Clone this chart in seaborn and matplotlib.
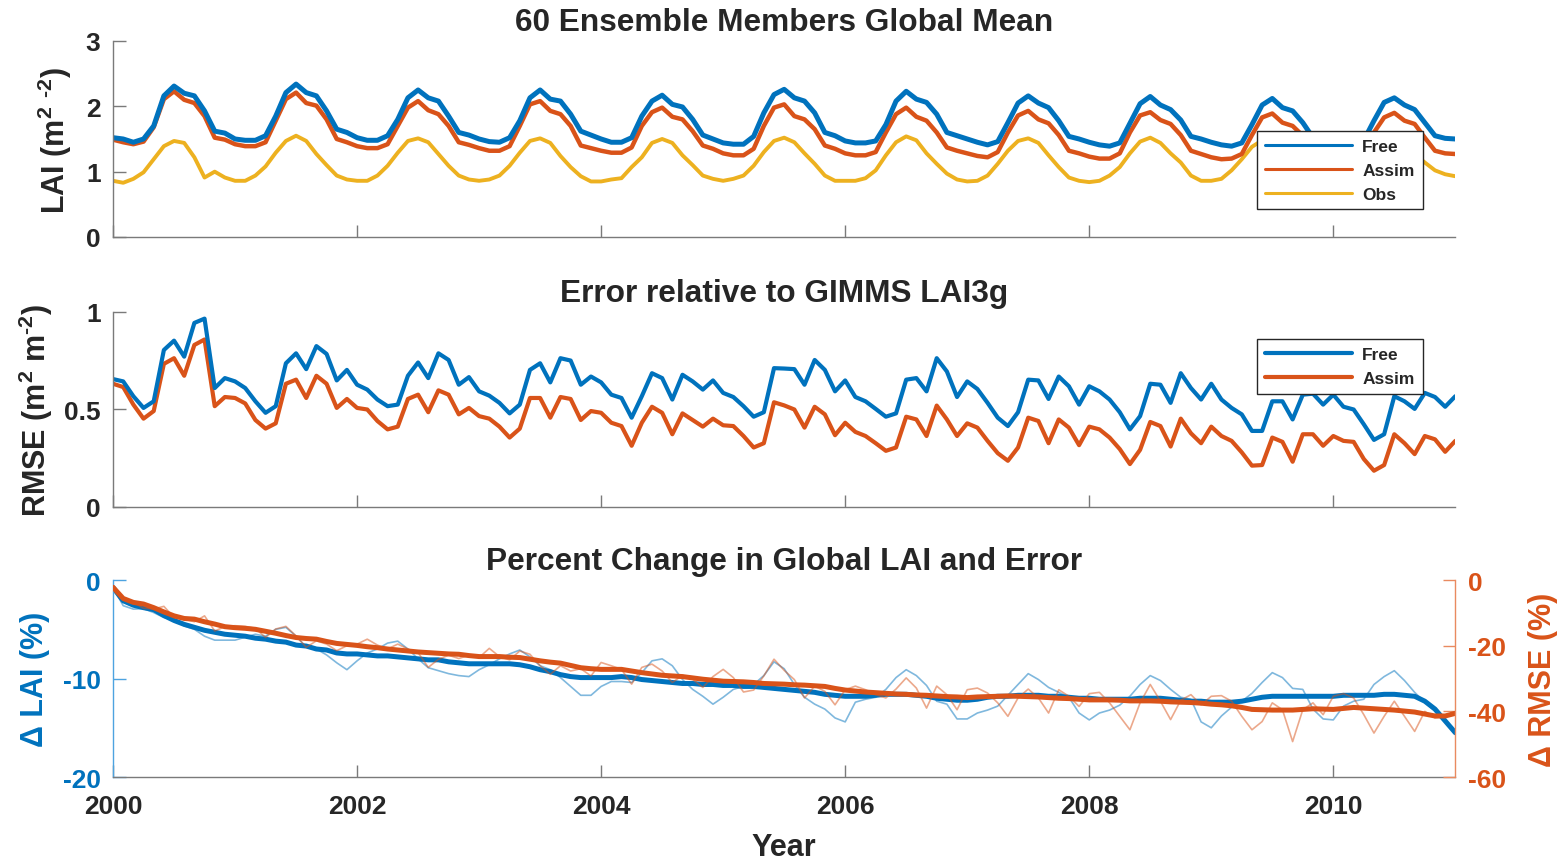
import numpy as np
import matplotlib
matplotlib.use("Agg")
import matplotlib.pyplot as plt
from matplotlib.lines import Line2D
import seaborn as sns

# ---------------- data (monthly, Jan 2000 .. Jan 2011) ----------------
years = [2000, 2002, 2004, 2006, 2008, 2010]

free_lai = [
    1.52, 1.50, 1.45, 1.50, 1.70, 2.16, 2.31, 2.20, 2.16, 1.93, 1.62, 1.59,
    1.50, 1.48, 1.48, 1.55, 1.85, 2.21, 2.34, 2.21, 2.16, 1.93, 1.65, 1.60,
    1.52, 1.48, 1.48, 1.55, 1.80, 2.13, 2.25, 2.13, 2.08, 1.85, 1.60, 1.56,
    1.50, 1.46, 1.45, 1.52, 1.78, 2.13, 2.25, 2.11, 2.08, 1.88, 1.62, 1.56,
    1.50, 1.45, 1.45, 1.52, 1.85, 2.08, 2.17, 2.03, 1.99, 1.80, 1.56, 1.50,
    1.44, 1.42, 1.42, 1.54, 1.90, 2.18, 2.26, 2.13, 2.08, 1.90, 1.60, 1.55,
    1.47, 1.44, 1.44, 1.47, 1.72, 2.08, 2.23, 2.11, 2.06, 1.88, 1.60, 1.55,
    1.50, 1.45, 1.41, 1.46, 1.75, 2.05, 2.16, 2.05, 1.98, 1.78, 1.54, 1.50,
    1.45, 1.41, 1.39, 1.44, 1.74, 2.04, 2.15, 2.02, 1.95, 1.79, 1.54, 1.50,
    1.45, 1.41, 1.39, 1.44, 1.72, 2.02, 2.12, 1.98, 1.93, 1.75, 1.52, 1.48,
    1.44, 1.42, 1.42, 1.48, 1.78, 2.06, 2.13, 2.02, 1.95, 1.75, 1.55, 1.51,
    1.50,
]

assim_lai = [
    1.49, 1.45, 1.42, 1.46, 1.68, 2.11, 2.23, 2.10, 2.05, 1.85, 1.52, 1.49,
    1.42, 1.39, 1.39, 1.45, 1.78, 2.11, 2.21, 2.05, 2.01, 1.80, 1.50, 1.45,
    1.39, 1.36, 1.36, 1.42, 1.70, 1.98, 2.08, 1.94, 1.88, 1.70, 1.45, 1.41,
    1.36, 1.32, 1.32, 1.39, 1.70, 2.03, 2.08, 1.93, 1.88, 1.70, 1.40, 1.36,
    1.32, 1.29, 1.29, 1.37, 1.70, 1.91, 1.98, 1.84, 1.80, 1.62, 1.40, 1.35,
    1.28, 1.25, 1.25, 1.35, 1.70, 1.98, 2.03, 1.85, 1.80, 1.65, 1.40, 1.35,
    1.28, 1.25, 1.25, 1.30, 1.60, 1.88, 1.98, 1.84, 1.78, 1.60, 1.37, 1.32,
    1.28, 1.24, 1.22, 1.30, 1.60, 1.86, 1.93, 1.80, 1.74, 1.56, 1.32, 1.28,
    1.23, 1.20, 1.20, 1.28, 1.60, 1.86, 1.91, 1.79, 1.73, 1.56, 1.32, 1.27,
    1.22, 1.19, 1.20, 1.27, 1.56, 1.83, 1.89, 1.75, 1.70, 1.55, 1.35, 1.28,
    1.24, 1.23, 1.25, 1.30, 1.60, 1.83, 1.90, 1.78, 1.73, 1.52, 1.32, 1.28,
    1.27,
]

obs_lai = [
    0.86, 0.83, 0.89, 0.99, 1.19, 1.39, 1.47, 1.44, 1.22, 0.91, 1.00, 0.91,
    0.86, 0.86, 0.94, 1.08, 1.29, 1.47, 1.55, 1.47, 1.27, 1.10, 0.94, 0.88,
    0.86, 0.86, 0.94, 1.09, 1.29, 1.47, 1.51, 1.45, 1.27, 1.09, 0.94, 0.88,
    0.86, 0.88, 0.94, 1.09, 1.29, 1.47, 1.51, 1.44, 1.24, 1.07, 0.93, 0.85,
    0.85, 0.88, 0.90, 1.07, 1.22, 1.44, 1.50, 1.44, 1.25, 1.10, 0.94, 0.89,
    0.86, 0.89, 0.94, 1.09, 1.30, 1.47, 1.52, 1.45, 1.28, 1.12, 0.94, 0.86,
    0.86, 0.86, 0.90, 1.02, 1.25, 1.45, 1.54, 1.48, 1.28, 1.12, 0.97, 0.88,
    0.85, 0.86, 0.94, 1.12, 1.32, 1.47, 1.51, 1.44, 1.25, 1.07, 0.91, 0.86,
    0.84, 0.86, 0.94, 1.07, 1.28, 1.46, 1.52, 1.44, 1.28, 1.14, 0.94, 0.86,
    0.86, 0.89, 1.02, 1.19, 1.38, 1.48, 1.50, 1.44, 1.25, 1.08, 0.93, 0.86,
    0.85, 0.87, 0.98, 1.18, 1.38, 1.47, 1.50, 1.42, 1.27, 1.14, 1.02, 0.96,
    0.93,
]

rmse_free = [
    0.656, 0.644, 0.568, 0.508, 0.542, 0.805, 0.853, 0.771, 0.944, 0.966, 0.610, 0.661,
    0.644, 0.610, 0.542, 0.483, 0.517, 0.737, 0.788, 0.707, 0.825, 0.785, 0.649, 0.703,
    0.627, 0.602, 0.551, 0.517, 0.525, 0.673, 0.741, 0.661, 0.788, 0.754, 0.627, 0.666,
    0.593, 0.571, 0.534, 0.480, 0.525, 0.703, 0.737, 0.639, 0.763, 0.751, 0.627, 0.669,
    0.639, 0.576, 0.559, 0.458, 0.568, 0.686, 0.661, 0.551, 0.678, 0.644, 0.602, 0.649,
    0.585, 0.564, 0.517, 0.463, 0.486, 0.712, 0.710, 0.707, 0.627, 0.754, 0.703, 0.593,
    0.649, 0.564, 0.542, 0.503, 0.463, 0.480, 0.653, 0.661, 0.593, 0.763, 0.695, 0.564,
    0.644, 0.605, 0.534, 0.458, 0.415, 0.486, 0.653, 0.649, 0.554, 0.669, 0.619, 0.525,
    0.619, 0.593, 0.551, 0.486, 0.398, 0.466, 0.632, 0.627, 0.534, 0.686, 0.610, 0.551,
    0.632, 0.551, 0.508, 0.475, 0.390, 0.390, 0.542, 0.542, 0.449, 0.576, 0.581, 0.525,
    0.576, 0.514, 0.500, 0.424, 0.344, 0.373, 0.568, 0.542, 0.503, 0.585, 0.564, 0.514,
    0.568,
]

rmse_assim = [
    0.632, 0.615, 0.525, 0.453, 0.492, 0.734, 0.763, 0.673, 0.831, 0.859, 0.517, 0.564,
    0.559, 0.531, 0.446, 0.402, 0.429, 0.632, 0.653, 0.559, 0.673, 0.632, 0.508, 0.554,
    0.508, 0.500, 0.441, 0.398, 0.412, 0.554, 0.576, 0.486, 0.598, 0.576, 0.475, 0.508,
    0.466, 0.453, 0.412, 0.356, 0.402, 0.559, 0.559, 0.458, 0.564, 0.554, 0.446, 0.492,
    0.483, 0.432, 0.415, 0.314, 0.432, 0.514, 0.483, 0.373, 0.480, 0.446, 0.412, 0.453,
    0.419, 0.415, 0.364, 0.305, 0.327, 0.537, 0.521, 0.500, 0.407, 0.514, 0.475, 0.368,
    0.432, 0.385, 0.364, 0.327, 0.288, 0.305, 0.463, 0.449, 0.364, 0.520, 0.449, 0.364,
    0.429, 0.407, 0.339, 0.276, 0.237, 0.305, 0.458, 0.441, 0.327, 0.449, 0.407, 0.317,
    0.412, 0.398, 0.356, 0.297, 0.220, 0.293, 0.436, 0.415, 0.310, 0.453, 0.378, 0.327,
    0.412, 0.364, 0.339, 0.280, 0.212, 0.215, 0.356, 0.334, 0.232, 0.373, 0.373, 0.314,
    0.364, 0.339, 0.334, 0.246, 0.186, 0.215, 0.373, 0.327, 0.271, 0.364, 0.347, 0.283,
    0.339,
]

# percent change in global LAI (left axis), monthly and smoothed
dlai_monthly = [
    -0.75, -2.6, -2.95, -2.9, -3.3, -3.8, -4.1, -4.65, -5.0, -5.7, -6.1, -6.1,
    -6.1, -5.8, -5.5, -5.7, -5.0, -4.8, -5.7, -6.8, -7.0, -7.6, -8.4, -9.1,
    -8.2, -7.4, -7.0, -6.4, -6.2, -7.0, -8.0, -8.9, -9.2, -9.5, -9.7, -9.8,
    -9.1, -8.6, -8.0, -7.5, -7.1, -7.8, -8.7, -9.1, -9.9, -10.8, -11.7, -11.7,
    -10.8, -10.3, -10.3, -10.4, -9.4, -8.2, -8.0, -8.7, -10.1, -11.1, -11.8, -12.6,
    -11.9, -11.1, -10.8, -10.6, -9.7, -8.3, -9.0, -10.6, -11.9, -12.6, -13.1, -14.0,
    -14.4, -12.4, -12.1, -11.9, -11.1, -9.9, -9.1, -9.7, -10.7, -12.3, -12.6, -14.1,
    -14.1, -13.5, -13.2, -12.8, -11.7, -10.6, -9.5, -10.1, -10.9, -11.4, -11.9, -13.5,
    -14.2, -13.5, -13.2, -12.7, -11.8, -10.6, -9.7, -10.2, -11.1, -11.9, -12.1, -14.4,
    -15.0, -13.8, -12.9, -12.3, -11.5, -10.4, -9.4, -9.9, -11.0, -11.1, -13.1, -14.1,
    -14.2, -12.8, -12.3, -12.1, -10.6, -9.8, -9.2, -10.2, -11.4, -12.4, -13.3, -14.3,
    -15.5,
]

dlai_smooth = [
    -0.75, -2.1, -2.55, -2.8, -3.0, -3.6, -4.1, -4.5, -4.8, -5.1, -5.3, -5.5,
    -5.6, -5.7, -5.9, -6.0, -6.2, -6.3, -6.6, -6.7, -7.0, -7.1, -7.4, -7.5,
    -7.5, -7.6, -7.7, -7.7, -7.8, -7.9, -8.0, -8.1, -8.1, -8.3, -8.4, -8.5,
    -8.5, -8.5, -8.5, -8.5, -8.6, -8.8, -9.1, -9.3, -9.6, -9.8, -9.9, -9.9,
    -9.9, -9.9, -9.8, -9.9, -10.1, -10.2, -10.3, -10.4, -10.5, -10.5, -10.6, -10.6,
    -10.7, -10.7, -10.8, -10.8, -10.9, -11.0, -11.1, -11.2, -11.3, -11.4, -11.6, -11.7,
    -11.8, -11.8, -11.8, -11.7, -11.6, -11.6, -11.6, -11.7, -11.8, -12.0, -12.1, -12.2,
    -12.2, -12.1, -11.9, -11.8, -11.8, -11.7, -11.7, -11.7, -11.8, -11.8, -11.9, -12.0,
    -12.0, -12.1, -12.1, -12.1, -12.1, -12.0, -12.0, -12.0, -12.1, -12.2, -12.3, -12.3,
    -12.4, -12.4, -12.4, -12.3, -12.1, -11.9, -11.8, -11.8, -11.8, -11.8, -11.8, -11.8,
    -11.8, -11.7, -11.7, -11.7, -11.7, -11.6, -11.6, -11.7, -11.8, -12.3, -13.1, -14.3,
    -15.5,
]

# percent change in RMSE (right axis), monthly and smoothed
drmse_monthly = [
    -2.2, -5.8, -6.8, -8.6, -8.8, -8.0, -11.4, -11.9, -12.7, -10.9, -15.5, -14.2,
    -13.9, -14.1, -14.7, -17.5, -14.9, -14.1, -17.0, -20.5, -18.5, -19.5, -21.5, -20.0,
    -19.5, -18.0, -19.8, -21.0, -19.5, -21.0, -22.1, -26.6, -24.1, -22.9, -23.9, -22.9,
    -23.6, -20.8, -23.3, -24.3, -21.6, -22.6, -26.1, -28.7, -26.1, -27.7, -27.0, -29.2,
    -25.1, -26.1, -27.2, -31.7, -26.6, -25.6, -27.7, -31.2, -29.0, -30.2, -32.7, -29.4,
    -27.2, -29.7, -34.1, -33.5, -29.2, -24.1, -27.5, -30.3, -35.9, -32.3, -33.9, -38.0,
    -33.4, -32.3, -33.4, -34.9, -35.9, -33.2, -29.8, -32.9, -39.0, -32.3, -34.9, -39.5,
    -33.4, -32.9, -34.4, -37.4, -41.5, -35.9, -33.2, -35.9, -40.5, -33.4, -35.4, -38.5,
    -34.6, -34.2, -37.4, -41.5, -45.6, -37.4, -31.8, -36.9, -42.5, -36.6, -34.9, -38.0,
    -35.4, -35.2, -36.9, -41.5, -45.6, -43.1, -37.4, -39.5, -49.2, -39.5, -37.4, -41.0,
    -35.4, -34.6, -35.9, -41.0, -46.6, -41.5, -36.9, -41.5, -46.1, -40.0, -42.0, -41.5,
    -40.5,
]

drmse_smooth = [
    -2.2, -5.6, -6.8, -7.3, -8.4, -9.7, -10.9, -11.7, -11.9, -12.7, -13.4, -14.2,
    -14.5, -14.7, -15.0, -15.6, -16.2, -16.9, -17.5, -17.8, -18.0, -18.7, -19.3, -19.6,
    -19.9, -20.3, -20.6, -21.0, -21.3, -21.6, -21.9, -22.1, -22.3, -22.5, -22.6, -23.0,
    -23.3, -23.3, -23.3, -23.5, -23.6, -24.1, -24.6, -25.0, -25.3, -26.0, -26.7, -27.0,
    -27.2, -27.2, -27.2, -27.7, -28.2, -28.6, -29.0, -29.2, -29.4, -29.8, -30.2, -30.5,
    -30.8, -30.9, -31.0, -31.2, -31.5, -31.6, -31.7, -31.9, -32.0, -32.2, -32.4, -33.0,
    -33.5, -33.8, -34.1, -34.3, -34.5, -34.7, -34.8, -35.0, -35.1, -35.3, -35.5, -35.6,
    -35.8, -35.6, -35.5, -35.4, -35.3, -35.4, -35.5, -35.6, -35.8, -36.0, -36.1, -36.3,
    -36.5, -36.5, -36.5, -36.6, -36.8, -36.8, -36.8, -36.9, -37.1, -37.2, -37.3, -37.5,
    -37.8, -38.0, -38.3, -38.8, -39.4, -39.5, -39.6, -39.6, -39.6, -39.4, -39.2, -39.3,
    -39.4, -39.1, -38.8, -39.0, -39.2, -39.4, -39.6, -39.9, -40.2, -40.8, -41.4, -41.4,
    -40.6,
]

lai_ticks = [0, 1, 2, 3]
rmse_ticks = [0, 0.5, 1]
rmse_tick_labels = ["0", "0.5", "1"]
dlai_ticks = [-20, -10, 0]
drmse_ticks = [-60, -40, -20, 0]

t = 2000 + np.arange(len(free_lai)) / 12.0

# ---------------- style ----------------
BLUE = "#0072BD"
ORANGE = "#D95319"
YELLOW = "#EDB120"
TXT = "#262626"
SPINE = "#7a7a7a"
LBLUE = "#4DA3E0"
LORANGE = "#E98A60"

sns.set_style("ticks")
plt.rcParams["font.family"] = ["Liberation Sans", "DejaVu Sans"]
plt.rcParams["font.weight"] = "bold"
plt.rcParams["axes.unicode_minus"] = False
plt.rcParams["mathtext.fontset"] = "custom"
plt.rcParams["mathtext.rm"] = "Liberation Sans:bold"
plt.rcParams["mathtext.it"] = "Liberation Sans:bold"
plt.rcParams["mathtext.bf"] = "Liberation Sans:bold"
plt.rcParams["mathtext.default"] = "rm"

TICK_FS = 19
LABEL_FS = 22
TITLE_FS = 22.8
LEG_FS = 12.5

fig = plt.figure(figsize=(15.59, 8.62), dpi=100)
ax1 = fig.add_axes([0.0725, 0.7239, 0.861, 0.2274])
ax2 = fig.add_axes([0.0725, 0.4107, 0.861, 0.2262])
ax3 = fig.add_axes([0.0725, 0.0974, 0.861, 0.2285])
ax3r = ax3.twinx()


def base_axes(ax):
    ax.set_xlim(2000, 2011)
    ax.set_xticks(years)
    for s in ("top", "right"):
        ax.spines[s].set_visible(False)
    for s in ("left", "bottom"):
        ax.spines[s].set_color(SPINE)
        ax.spines[s].set_linewidth(1.0)
    ax.tick_params(direction="in", length=9, width=1.0, color=SPINE,
                   labelsize=TICK_FS, labelcolor=TXT, pad=9)
    ax.tick_params(axis="x", pad=12)
    ax.set_xlabel("")
    ax.set_ylabel("")


# ---------------- panel 1: LAI ----------------
sns.lineplot(x=t, y=obs_lai, ax=ax1, color=YELLOW, linewidth=2.8)
sns.lineplot(x=t, y=assim_lai, ax=ax1, color=ORANGE, linewidth=3.2)
sns.lineplot(x=t, y=free_lai, ax=ax1, color=BLUE, linewidth=3.6)
base_axes(ax1)
ax1.set_ylim(0, 3)
ax1.set_yticks(lai_ticks)
ax1.set_xticklabels([])
ax1.set_title("60 Ensemble Members Global Mean", fontsize=TITLE_FS,
              fontweight="bold", color=TXT, pad=8)
ax1.set_ylabel("LAI (m$^{2}$ $^{\u2010 2}$)", fontsize=LABEL_FS,
               fontweight="bold", color=TXT)
ax1.yaxis.set_label_coords(-0.029, 0.5)

leg_kw = dict(loc="upper left", frameon=True, fancybox=False,
              edgecolor=TXT, framealpha=1.0, handlelength=5.0,
              handletextpad=0.6, borderpad=0.45, labelspacing=0.5,
              borderaxespad=0.0,
              prop={"size": LEG_FS, "weight": "bold"})
h1 = [Line2D([], [], color=BLUE, lw=2.2),
      Line2D([], [], color=ORANGE, lw=2.2),
      Line2D([], [], color=YELLOW, lw=2.2)]
leg1 = ax1.legend(h1, ["Free", "Assim", "Obs"],
                  bbox_to_anchor=(0.8525, 0.541), **leg_kw)
leg1.get_frame().set_linewidth(1.0)
leg1.set_zorder(10)

# ---------------- panel 2: RMSE ----------------
sns.lineplot(x=t, y=rmse_assim, ax=ax2, color=ORANGE, linewidth=3.0)
sns.lineplot(x=t, y=rmse_free, ax=ax2, color=BLUE, linewidth=3.0)
base_axes(ax2)
ax2.set_ylim(0, 1)
ax2.set_yticks(rmse_ticks)
ax2.set_yticklabels(rmse_tick_labels)
ax2.set_xticklabels([])
ax2.set_title("Error relative to GIMMS LAI3g", fontsize=TITLE_FS,
              fontweight="bold", color=TXT, pad=8)
ax2.set_ylabel("RMSE (m$^{2}$ m$^{\u2010 2}$)", fontsize=LABEL_FS,
               fontweight="bold", color=TXT)
ax2.yaxis.set_label_coords(-0.043, 0.5)
h2 = [Line2D([], [], color=BLUE, lw=3.0),
      Line2D([], [], color=ORANGE, lw=3.0)]
leg2 = ax2.legend(h2, ["Free", "Assim"],
                  bbox_to_anchor=(0.8525, 0.862), **leg_kw)
leg2.get_frame().set_linewidth(1.0)
leg2.set_zorder(10)

# ---------------- panel 3: percent change ----------------
sns.lineplot(x=t, y=dlai_monthly, ax=ax3, color=BLUE, linewidth=1.2, alpha=0.5)
sns.lineplot(x=t, y=dlai_smooth, ax=ax3, color=BLUE, linewidth=3.6)
sns.lineplot(x=t, y=drmse_monthly, ax=ax3r, color=ORANGE, linewidth=1.2, alpha=0.5)
sns.lineplot(x=t, y=drmse_smooth, ax=ax3r, color=ORANGE, linewidth=3.6)

base_axes(ax3)
ax3.set_ylim(-20, 0)
ax3.set_yticks(dlai_ticks)
ax3.spines["left"].set_color(LBLUE)
ax3.tick_params(axis="y", color=LBLUE, labelcolor=BLUE)
ax3.set_xlabel("Year", fontsize=LABEL_FS, fontweight="bold", color=TXT,
               labelpad=10)
ax3.set_title("Percent Change in Global LAI and Error", fontsize=TITLE_FS,
              fontweight="bold", color=TXT, pad=8)
ax3.set_ylabel("\u0394 LAI (%)", fontsize=LABEL_FS, fontweight="bold",
               color=BLUE)
ax3.yaxis.set_label_coords(-0.047, 0.5)

ax3r.set_xlim(2000, 2011)
ax3r.set_ylim(-60, 0)
ax3r.set_yticks(drmse_ticks)
for s in ("top", "left", "bottom"):
    ax3r.spines[s].set_visible(False)
ax3r.spines["right"].set_color(LORANGE)
ax3r.spines["right"].set_linewidth(1.0)
ax3r.tick_params(axis="y", direction="in", length=9, width=1.0,
                 color=LORANGE, labelcolor=ORANGE, labelsize=TICK_FS, pad=9)
ax3r.set_ylabel("\u0394 RMSE (%)", fontsize=LABEL_FS, fontweight="bold",
                color=ORANGE)
ax3r.yaxis.set_label_coords(1.054, 0.5)

for ax in (ax1, ax2, ax3, ax3r):
    for lab in ax.get_xticklabels() + ax.get_yticklabels():
        lab.set_fontweight("bold")

fig.savefig("out.png", dpi=100)
